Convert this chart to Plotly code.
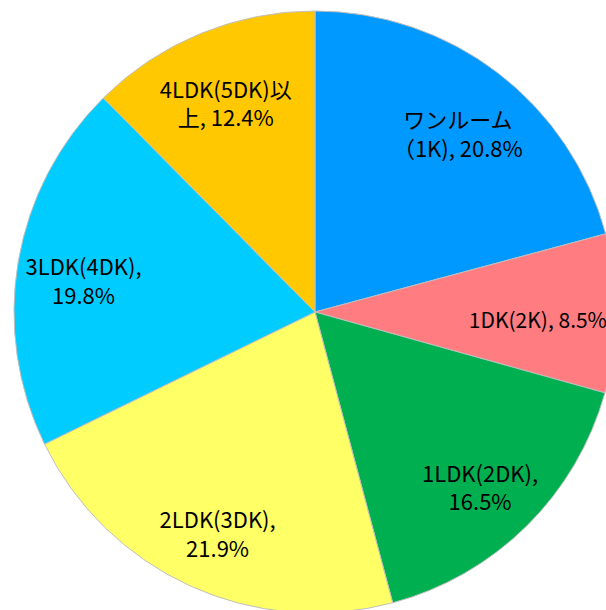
import plotly.graph_objects as go

categories = ["ワンルーム（1K)", "1DK(2K)", "1LDK(2DK)", "2LDK(3DK)", "3LDK(4DK)", "4LDK(5DK)以上"]
values = [20.8, 8.5, 16.5, 21.9, 19.8, 12.4]
label_texts = [
    "ワンルーム<br>（1K), 20.8%",
    "<span style='font-size:21px'>1DK(2K), 8.5%&nbsp;&nbsp;&nbsp;&nbsp;&nbsp;</span>",
    "1LDK(2DK),<br>16.5%",
    "2LDK(3DK),<br>21.9%",
    "3LDK(4DK),<br>19.8%",
    "4LDK(5DK)以<br>上, 12.4%",
]
colors = ["#0099FF", "#FF7C80", "#00B050", "#FFFF66", "#00CCFF", "#FFC800"]

FONT = "Noto Sans CJK JP, sans-serif"

# plot area is 602 px wide and 609 px tall; the filled pie uses the top 602 px,
# the transparent label ring sits 7 px lower
PA_H = 609.0
SHIFT = 7.0

# filled pie (no text)
fig = go.Figure(go.Pie(
    labels=categories,
    values=values,
    textinfo="none",
    sort=False,
    direction="clockwise",
    rotation=0,
    domain=dict(x=[0, 1], y=[SHIFT / PA_H, 1]),
    marker=dict(colors=colors, line=dict(color="#BFBFBF", width=1)),
    hoverinfo="label+percent",
))

# transparent ring on top that carries the data labels further out
fig.add_trace(go.Pie(
    labels=categories,
    values=values,
    text=label_texts,
    textinfo="text",
    textposition="inside",
    insidetextorientation="horizontal",
    sort=False,
    direction="clockwise",
    rotation=0,
    hole=0.56,
    domain=dict(x=[0, 1], y=[0, 1 - SHIFT / PA_H]),
    marker=dict(colors=["rgba(0,0,0,0)"] * len(values), line=dict(width=0)),
    textfont=dict(family=FONT, size=22, color="black"),
    hoverinfo="skip",
))

fig.update_layout(
    width=616, height=int(11 + PA_H),
    margin=dict(l=14, r=0, t=11, b=0),
    showlegend=False,
    paper_bgcolor="white",
    uniformtext=dict(minsize=22, mode="show"),
)

fig.write_html(
    "out.html",
    config={"displayModeBar": False},
    post_script="document.body.style.margin='0';document.documentElement.style.overflow='hidden';",
)
